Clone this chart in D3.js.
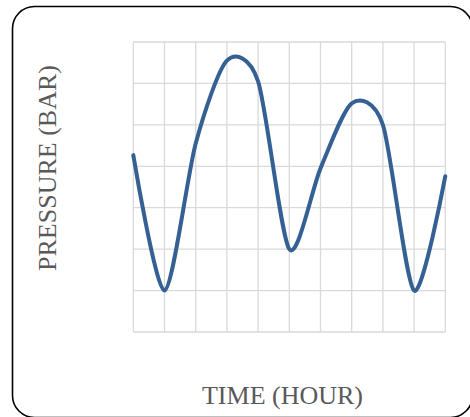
<!DOCTYPE html>
<html>
<head>
<meta charset="utf-8">
<script src="https://cdn.jsdelivr.net/npm/d3@7"></script>
<style>
html,body{margin:0;padding:0;background:#fff;}
svg{display:block;}
</style>
</head>
<body>
<svg id="chart" width="470" height="417"></svg>
<script>
const hours = [0,1,2,3,4,5,6,7,8,9,10];
const pressure = [4.27, 1.0, 4.55, 6.55, 6.05, 2.0, 3.95, 5.52, 5.0, 1.0, 3.76];
const yTicks = [0,1,2,3,4,5,6,7];
const xTitle = "TIME (HOUR)";
const yTitle = "PRESSURE (BAR)";

const svg = d3.select("#chart");
svg.append("rect")
  .attr("x",12.5).attr("y",6.5).attr("width",460).attr("height",411)
  .attr("rx",22).attr("ry",22)
  .attr("fill","#fff").attr("stroke","#000").attr("stroke-width",1.6);

const x = d3.scaleLinear().domain([0,10]).range([133.3,445.3]);
const y = d3.scaleLinear().domain([0,7]).range([332,42]);

const grid = svg.append("g").attr("stroke","#d9d9d9").attr("stroke-width",1.3);
grid.selectAll("line.v").data(hours).join("line").attr("class","v")
  .attr("x1",d=>x(d)).attr("x2",d=>x(d)).attr("y1",y(0)).attr("y2",y(7));
grid.selectAll("line.h").data(yTicks).join("line").attr("class","h")
  .attr("y1",d=>y(d)).attr("y2",d=>y(d)).attr("x1",x(0)).attr("x2",x(10));

const line = d3.line()
  .x((d,i)=>x(hours[i]))
  .y(d=>y(d))
  .curve(d3.curveCardinal.tension(0.2));
svg.append("path").datum(pressure)
  .attr("d",line).attr("fill","none")
  .attr("stroke","#356094").attr("stroke-width",4)
  .attr("stroke-linejoin","round").attr("stroke-linecap","round");

svg.append("text").text(xTitle)
  .attr("x",282.5).attr("y",403.5).attr("text-anchor","middle")
  .attr("font-family","'Liberation Serif', 'Times New Roman', serif")
  .attr("font-size",26).attr("fill","#595959");

svg.append("text").text(yTitle)
  .attr("transform","translate(55.5,168) rotate(-90)")
  .attr("text-anchor","middle")
  .attr("font-family","'Liberation Serif', 'Times New Roman', serif")
  .attr("font-size",26).attr("fill","#595959");
</script>
</body>
</html>
